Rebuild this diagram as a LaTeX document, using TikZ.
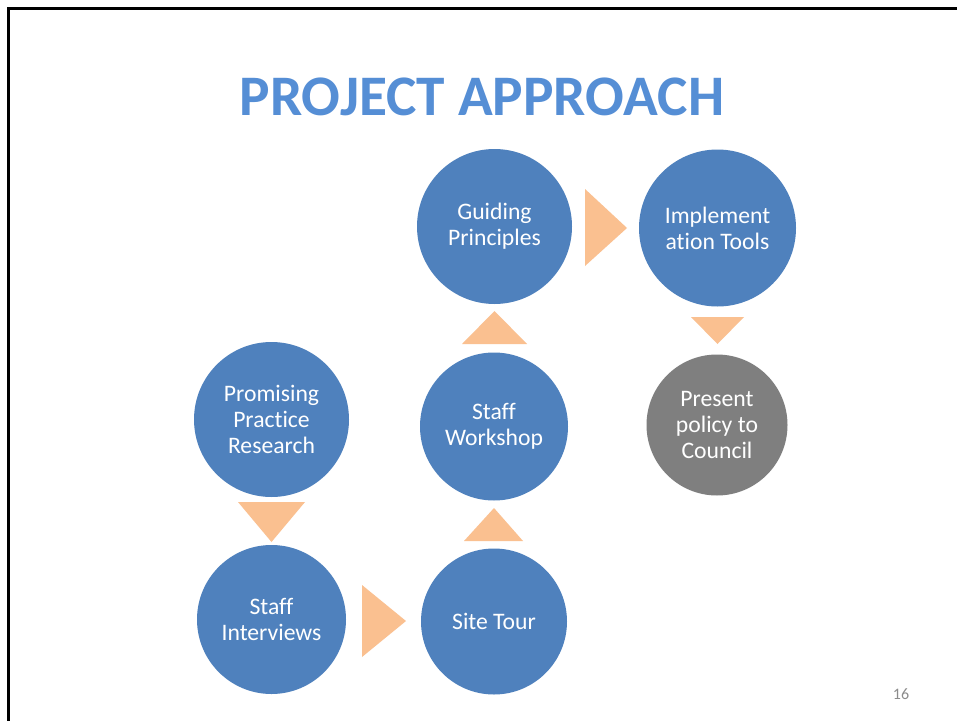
\documentclass[tikz,border=0pt]{standalone}
\usepackage{fontspec}
\setmainfont{Carlito}[Ligatures={NoCommon}]
\definecolor{circblue}{HTML}{4F81BD}
\definecolor{circgray}{HTML}{7F7F7F}
\definecolor{arrorange}{HTML}{FAC090}
\definecolor{titleblue}{HTML}{558ED5}
\definecolor{pagegray}{HTML}{8C8C8C}
\newcommand\pxlen[1]{#1*0.75pt}
\begin{document}
\begin{tikzpicture}[x=0.75pt,y=-0.75pt,
  stage/.style={circle,fill=circblue,inner sep=0pt,text=white,align=center,
    font=\fontsize{17.75pt}{19.6pt}\selectfont},
  finalstage/.style={stage,fill=circgray},
  arrowtri/.style={fill=arrorange}]
\useasboundingbox (0,0) rectangle (957,721);
\fill[white] (0,0) rectangle (957,721);
\draw[line width=2.25pt] (8.2,721) -- (8.2,8.2) -- (957,8.2);
\node[text=titleblue,font=\fontsize{43pt}{50pt}\selectfont\bfseries] (title) at (482,97) {PROJECT APPROACH};
\node[stage,minimum size=\pxlen{155}] (ppr) at (271.5,419.5) {Promising\\Practice\\Research};
\node[stage,minimum size=\pxlen{149}] (si) at (271.5,619.5) {Staff\\Interviews};
\node[stage,minimum size=\pxlen{146}] (st) at (494,621.5) {Site Tour};
\node[stage,minimum size=\pxlen{148}] (sw) at (494,426.5) {Staff\\Workshop};
\node[stage,minimum size=\pxlen{155}] (gp) at (494.5,226.5) {Guiding\\Principles};
\node[stage,minimum size=\pxlen{157}] (it) at (717.5,228) {Implement\\ation Tools};
\node[finalstage,minimum size=\pxlen{141}] (pc) at (717,425) {Present\\policy to\\Council};
\fill[arrowtri] (238,502) -- (305,502) -- (271.5,542) -- cycle;
\fill[arrowtri] (362,585) -- (362,657) -- (406,621) -- cycle;
\fill[arrowtri] (464,541) -- (523,541) -- (494,508) -- cycle;
\fill[arrowtri] (462,344) -- (527,344) -- (494.5,311) -- cycle;
\fill[arrowtri] (585,189) -- (585,266) -- (627,228) -- cycle;
\fill[arrowtri] (691,317) -- (744,317) -- (717.5,344) -- cycle;
\node[text=pagegray,font=\fontsize{12pt}{14pt}\selectfont] (pg) at (901,694) {16};
\end{tikzpicture}
\end{document}
